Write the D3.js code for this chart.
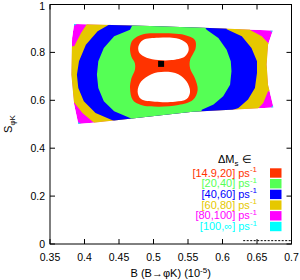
<!DOCTYPE html>
<html><head><meta charset="utf-8">
<script src="https://cdn.jsdelivr.net/npm/d3@7"></script>
<style>body{margin:0;background:#fff}svg{display:block}text{font-family:"Liberation Sans",Arial,sans-serif}</style>
</head><body><svg id="c" width="300" height="280"></svg>
<script>
const xTicks=[0.35,0.4,0.45,0.5,0.55,0.6,0.65,0.7];
const yTicks=[0,0.2,0.4,0.6,0.8,1];
const xTickLabels=["0.35","0.4","0.45","0.5","0.55","0.6","0.65","0.7"];
const yTickLabels=["0","0.2","0.4","0.6","0.8","1"];
// allowed region (outer boundary), drawn magenta
const outer=[[0.385,0.919],[0.495,0.910],[0.582,0.902],[0.673,0.891],[0.666,0.832],[0.664,0.749],[0.666,0.665],[0.674,0.570],[0.557,0.552],[0.495,0.532],[0.443,0.516],[0.416,0.507],[0.391,0.501],[0.385,0.582],[0.381,0.707],[0.382,0.860]];
const cyanCorners=[
 [[0.385,0.919],[0.389,0.919],[0.385,0.911]],
 [[0.673,0.891],[0.669,0.891],[0.672,0.883]],
 [[0.674,0.570],[0.670,0.569],[0.673,0.578]],
 [[0.391,0.501],[0.395,0.502],[0.390,0.509]]];
const yellow=[[0.403,0.935],[0.640,0.935],[0.640,0.894],[0.657,0.867],[0.666,0.839],[0.691,0.839],[0.691,0.638],[0.666,0.638],[0.659,0.589],[0.650,0.561],[0.650,0.497],[0.416,0.455],[0.416,0.501],[0.397,0.547],[0.383,0.598],[0.365,0.598],[0.365,0.826],[0.385,0.826],[0.395,0.881],[0.403,0.916]];
const blue=[[0.440,0.935],[0.606,0.935],[0.606,0.897],[0.628,0.867],[0.642,0.818],[0.650,0.763],[0.650,0.714],[0.647,0.651],[0.637,0.603],[0.623,0.568],[0.606,0.551],[0.606,0.476],[0.443,0.476],[0.443,0.514],[0.416,0.547],[0.399,0.596],[0.391,0.651],[0.389,0.707],[0.392,0.763],[0.402,0.832],[0.419,0.888],[0.436,0.917]];
const green=[[0.466,0.895],[0.443,0.867],[0.428,0.818],[0.420,0.763],[0.418,0.707],[0.420,0.651],[0.428,0.596],[0.443,0.554],[0.466,0.526],[0.478,0.497],[0.565,0.509],[0.570,0.561],[0.587,0.582],[0.601,0.617],[0.611,0.665],[0.613,0.721],[0.612,0.763],[0.606,0.811],[0.594,0.860],[0.577,0.895],[0.567,0.935],[0.473,0.935]];
const red=[[0.485,0.876],[0.507,0.880],[0.545,0.873],[0.560,0.852],[0.561,0.817],[0.553,0.768],[0.553,0.734],[0.560,0.692],[0.564,0.643],[0.557,0.601],[0.536,0.580],[0.507,0.573],[0.482,0.580],[0.470,0.601],[0.466,0.650],[0.468,0.692],[0.473,0.727],[0.473,0.755],[0.468,0.782],[0.466,0.817],[0.470,0.852]];
const holeTop=[[0.478,0.824],[0.485,0.852],[0.507,0.861],[0.533,0.859],[0.548,0.838],[0.551,0.810],[0.545,0.782],[0.526,0.768],[0.507,0.768],[0.490,0.778],[0.480,0.796]];
const holeBottom=[[0.497,0.709],[0.516,0.719],[0.536,0.709],[0.548,0.678],[0.553,0.636],[0.548,0.605],[0.531,0.594],[0.502,0.594],[0.482,0.605],[0.477,0.636],[0.482,0.678]];
const bestFit=[0.511,0.752];
const boundLine=[[0.630,0.014],[0.70,0.014]];
const legendLabels=["[14.9,20]","[20,40]","[40,60]","[60,80]","[80,100]","[100,\u221e]"];
const legendColors=["#ff3300","#55ff55","#0000ff","#e6c800","#ff00ff","#00ffff"];

const svg=d3.select("#c");
const x=d3.scaleLinear().domain([0.35,0.7]).range([50,291.5]);
const y=d3.scaleLinear().domain([0,1]).range([244,4.5]);
const lin=d3.line().x(d=>x(d[0])).y(d=>y(d[1])).curve(d3.curveLinearClosed);
const smooth=d3.line().x(d=>x(d[0])).y(d=>y(d[1])).curve(d3.curveCatmullRomClosed);

svg.append("clipPath").attr("id","reg").append("path").attr("d",lin(outer));
const g=svg.append("g").attr("clip-path","url(#reg)");
g.append("path").attr("d",lin(outer)).attr("fill",legendColors[4]);
g.selectAll(".cy").data(cyanCorners).join("path").attr("d",d=>lin(d)).attr("fill",legendColors[5]);
g.append("path").attr("d",lin(yellow)).attr("fill",legendColors[3]);
g.append("path").attr("d",lin(blue)).attr("fill",legendColors[2]);
g.append("path").attr("d",lin(green)).attr("fill",legendColors[1]);
g.append("path").attr("d",smooth(red)).attr("fill",legendColors[0]);
g.append("path").attr("d",smooth(holeTop)).attr("fill","#fff");
g.append("path").attr("d",smooth(holeBottom)).attr("fill","#fff");
svg.append("rect").attr("x",x(bestFit[0])-3).attr("y",y(bestFit[1])-3).attr("width",6).attr("height",6).attr("fill","#000");

svg.append("path").attr("d",d3.line().x(d=>x(d[0])).y(d=>y(d[1]))(boundLine)).attr("stroke","#000").attr("stroke-width",1).attr("stroke-dasharray","2,1.5").attr("fill","none");

// frame and ticks
svg.append("rect").attr("x",x(0.35)).attr("y",y(1)).attr("width",x(0.7)-x(0.35)).attr("height",y(0)-y(1)).attr("fill","none").attr("stroke","#000").attr("stroke-width",1);
const tk=svg.append("g").attr("stroke","#000").attr("stroke-width",1);
xTicks.forEach(v=>{tk.append("line").attr("x1",x(v)).attr("x2",x(v)).attr("y1",y(0)).attr("y2",y(0)-5);
 tk.append("line").attr("x1",x(v)).attr("x2",x(v)).attr("y1",y(1)).attr("y2",y(1)+5);});
yTicks.forEach(v=>{tk.append("line").attr("x1",x(0.35)).attr("x2",x(0.35)+5).attr("y1",y(v)).attr("y2",y(v));
 tk.append("line").attr("x1",x(0.7)).attr("x2",x(0.7)-5).attr("y1",y(v)).attr("y2",y(v));});
svg.selectAll(".xl").data(xTicks).join("text").attr("x",d=>x(d)).attr("y",260.5).attr("text-anchor","middle").attr("font-size",10.5).text((d,i)=>xTickLabels[i]);
svg.selectAll(".yl").data(yTicks).join("text").attr("x",45).attr("y",d=>Math.max(y(d),6)).attr("dy","0.36em").attr("text-anchor","end").attr("font-size",10.5).text((d,i)=>yTickLabels[i]);

// axis titles
const xt=svg.append("text").attr("x",170.7).attr("y",277).attr("text-anchor","middle").attr("font-size",11);
xt.append("tspan").text("B (B\u2192\u03c6K)  (10");
xt.append("tspan").attr("dy",-4).attr("font-size",8).text("-5");
xt.append("tspan").attr("dy",4).text(")");
const yt=svg.append("text").attr("transform","translate(12,124) rotate(-90)").attr("text-anchor","middle").attr("font-size",11);
yt.append("tspan").text("S");
yt.append("tspan").attr("dy",2.5).attr("font-size",8).text("\u03c6K");

// legend
const lt=svg.append("text").attr("x",218).attr("y",163.3).attr("font-size",11);
lt.append("tspan").text("\u0394M");
lt.append("tspan").attr("dy",2.5).attr("font-size",8).text("s");
lt.append("tspan").attr("dy",-2.5).text(" \u2208");
legendLabels.forEach((l,i)=>{
 const by=176.5+i*10.7;
 const t=svg.append("text").attr("x",257).attr("y",by).attr("text-anchor","end").attr("font-size",11).attr("fill",legendColors[i]);
 t.append("tspan").text(l+" ps");
 t.append("tspan").attr("dy",-4.5).attr("font-size",8).text("-1");
 svg.append("rect").attr("x",270).attr("y",by-8.2).attr("width",11.5).attr("height",9.4).attr("fill",legendColors[i]);
});
</script></body></html>
